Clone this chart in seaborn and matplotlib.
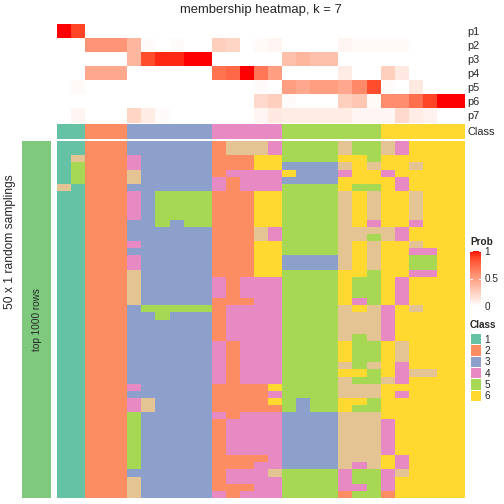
import numpy as np
import pandas as pd
import matplotlib
matplotlib.use("Agg")
import matplotlib.pyplot as plt
from matplotlib.colors import ListedColormap
import seaborn as sns

# ---------------- data ----------------
title = "membership heatmap, k = 7"
row_title = "50 x 1 random samplings"
slice_title = "top 1000 rows"
prob_rows = ["p1", "p2", "p3", "p4", "p5", "p6", "p7"]

p1 = [1.00, 0.88, 0, 0, 0, 0, 0, 0, 0, 0, 0, 0, 0, 0, 0, 0, 0, 0, 0, 0, 0, 0, 0, 0, 0, 0, 0, 0, 0]
p2 = [0, 0, 0.55, 0.55, 0.55, 0.38, 0.02, 0, 0.02, 0, 0, 0.25, 0.22, 0, 0.03, 0.05,
      0, 0, 0, 0, 0.05, 0.03, 0.03, 0.03, 0.03, 0, 0, 0, 0]
p3 = [0, 0, 0, 0, 0, 0.38, 0.85, 0.95, 0.95, 1.00, 1.00, 0, 0, 0, 0, 0,
      0.33, 0.38, 0.33, 0.33, 0, 0, 0, 0, 0, 0, 0, 0, 0]
p4 = [0, 0, 0.45, 0.45, 0.45, 0, 0, 0, 0, 0, 0, 0.70, 0.75, 1.00, 0.68, 0.50,
      0, 0, 0, 0, 0.10, 0, 0, 0.25, 0.12, 0, 0, 0, 0]
p5 = [0, 0.03, 0, 0, 0, 0, 0, 0, 0, 0, 0, 0, 0, 0, 0.02, 0,
      0.50, 0.45, 0.50, 0.50, 0.45, 0.60, 0.85, 0.02, 0, 0.12, 0, 0, 0]
p6 = [0, 0, 0, 0, 0, 0, 0, 0, 0, 0, 0, 0, 0, 0, 0.20, 0.25,
      0.02, 0, 0, 0, 0.25, 0.30, 0.03, 0.58, 0.58, 0.72, 0.88, 1.00, 1.00]
p7 = [0, 0.05, 0, 0, 0, 0.22, 0.10, 0.02, 0, 0, 0, 0, 0, 0, 0.05, 0.12,
      0.10, 0.10, 0.10, 0.10, 0.10, 0.05, 0.05, 0.05, 0.20, 0.10, 0.07, 0, 0]

column_class = [1, 1, 2, 2, 2, 3, 3, 3, 3, 3, 3, 4, 4, 4, 4, 4,
                5, 5, 5, 5, 5, 5, 5, 6, 6, 6, 6, 6, 6]

# class of every column in each of the 50 random samplings (7 = unassigned colour)
sampling_classes = [
    "11222333333277745555755746666",
    "11222333333277745555755746666",
    "17222433333222665555665666666",
    "15222433333222663333767667666",
    "15222733333244446333466466666",
    "15222733333424443333666646666",
    "71222333333424445555655646666",
    "11222435555222665555767667666",
    "11222435555222665555767667666",
    "11222435555222665555767667666",
    "11222435555222665555767667666",
    "11222335355222665555764664666",
    "11222333333222745555777746666",
    "11222333333222745555775746666",
    "11222433333222665555767667666",
    "11222333333222665555767664466",
    "11222433333222663333767665566",
    "11222433333222663333767665566",
    "11222733333222665555665664466",
    "11222733333424445555655646666",
    "11222733333424445555655646666",
    "11222733333424445555655646666",
    "11222733333222445555645646666",
    "11222355555244445555767467666",
    "11222335333244445555777466666",
    "11222333333244445555777466666",
    "11222333333244445555777466666",
    "11222333333244445555757466666",
    "11222333333424445555655676666",
    "11222333333424445555655676666",
    "11222333333424445555655676666",
    "11222333333424445555757646666",
    "11222333333424445555665647766",
    "11222333333424445555755746666",
    "11222433333222265555777666666",
    "11222333333222245555777646666",
    "11222473333222265355665666666",
    "11222473333222225355655666666",
    "11222533333424443333777666666",
    "11222533333244443333777466666",
    "11222533333244443333777466666",
    "11222533333244443333777466666",
    "11222533333244443333777466666",
    "11222533333244443333777466666",
    "11222533333222243333777646666",
    "11222533333222443333747646666",
    "11222333333244475555455476666",
    "11222733333244445555455466666",
    "11222733333222445555445466666",
    "11222733333424445555255266666",
]

legend_classes = ["1", "2", "3", "4", "5", "6"]
prob_ticks = [0, 0.5, 1]

class_colors = ["#66C2A5", "#FC8D62", "#8DA0CB", "#E78AC3", "#A6D854", "#FFD92F", "#E5C494"]
slice_color = "#7FC97F"

# ---------------- colour map white -> red (LAB interpolation) ----------------
def _srgb_to_lab(rgb):
    rgb = np.asarray(rgb, float)
    lin = np.where(rgb <= 0.04045, rgb / 12.92, ((rgb + 0.055) / 1.055) ** 2.4)
    M = np.array([[0.4124, 0.3576, 0.1805], [0.2126, 0.7152, 0.0722], [0.0193, 0.1192, 0.9505]])
    xyz = M @ lin / np.array([0.95047, 1.0, 1.08883])
    f = np.where(xyz > 0.008856, np.cbrt(xyz), 7.787 * xyz + 16 / 116)
    return np.array([116 * f[1] - 16, 500 * (f[0] - f[1]), 200 * (f[1] - f[2])])

def _lab_to_srgb(lab):
    L, a, b = lab
    fy = (L + 16) / 116
    fx = fy + a / 500
    fz = fy - b / 200
    f = np.array([fx, fy, fz])
    xyz = np.where(f ** 3 > 0.008856, f ** 3, (f - 16 / 116) / 7.787) * np.array([0.95047, 1.0, 1.08883])
    Minv = np.array([[3.2406, -1.5372, -0.4986], [-0.9689, 1.8758, 0.0415], [0.0557, -0.2040, 1.0570]])
    lin = np.clip(Minv @ xyz, 0, 1)
    return np.clip(np.where(lin <= 0.0031308, 12.92 * lin, 1.055 * lin ** (1 / 2.4) - 0.055), 0, 1)

lab_w = _srgb_to_lab([1, 1, 1])
lab_r = _srgb_to_lab([1, 0, 0])
prob_cmap = ListedColormap([_lab_to_srgb(lab_w + (lab_r - lab_w) * t) for t in np.linspace(0, 1, 256)])
class_cmap = ListedColormap(class_colors)

# ---------------- figure ----------------
sns.set_theme(style="white")
plt.rcParams['font.family'] = ['Liberation Sans', 'DejaVu Sans']

W = H = 504.0
fig = plt.figure(figsize=(7, 7), dpi=72)
fig.patch.set_facecolor("white")

def add_ax(x0, y0, x1, y1):
    return fig.add_axes([x0 / W, 1 - y1 / H, (x1 - x0) / W, (y1 - y0) / H])

membership = pd.DataFrame([p1, p2, p3, p4, p5, p6, p7], index=prob_rows)
main = np.array([[int(ch) for ch in row] for row in sampling_classes])

ax_m = add_ax(57, 23.5, 465, 122.5)
cax = add_ax(470, 251, 481.3, 306)
sns.heatmap(membership, cmap=prob_cmap, vmin=0, vmax=1, ax=ax_m, cbar_ax=cax,
            xticklabels=False, yticklabels=prob_rows)
ax_m.yaxis.tick_right()
ax_m.tick_params(axis="y", length=0, pad=2, labelsize=11, labelrotation=0)

cb = ax_m.collections[0].colorbar
cb.outline.set_visible(False)
cb.set_ticks(prob_ticks)
cb.set_ticklabels(["0", "0.5", "1"])
cax.tick_params(length=0, labelsize=10, pad=3)
for v in [0.5, 1.0]:
    cax.axhline(v, xmin=0, xmax=0.2, color="white", lw=1)
    cax.axhline(v, xmin=0.8, xmax=1, color="white", lw=1)
fig.text(470 / W, 1 - 242 / H, "Prob", fontsize=10, fontweight="bold", ha="left", va="center")

ax_c = add_ax(57, 124, 465, 138.5)
sns.heatmap(pd.DataFrame([column_class], index=["Class"]), cmap=class_cmap, vmin=0.5, vmax=7.5,
            cbar=False, ax=ax_c, xticklabels=False, yticklabels=["Class"])
ax_c.yaxis.tick_right()
ax_c.tick_params(axis="y", length=0, pad=2, labelsize=11, labelrotation=0)

ax_main = add_ax(57, 141, 465, 498)
sns.heatmap(main, cmap=class_cmap, vmin=0.5, vmax=7.5, cbar=False, ax=ax_main,
            xticklabels=False, yticklabels=False)

ax_left = add_ax(22, 141, 51, 498)
sns.heatmap(np.ones((len(sampling_classes), 1)), cmap=ListedColormap([slice_color]), cbar=False,
            ax=ax_left, xticklabels=False, yticklabels=False)
ax_left.text(0.5, 0.5, slice_title, transform=ax_left.transAxes, rotation=90,
             ha="center", va="center", fontsize=10)

fig.text(10 / W, 1 - 242 / H, row_title, rotation=90, ha="center", va="center", fontsize=12)
fig.text(261 / W, 1 - 10 / H, title, ha="center", va="center", fontsize=13)

ax_cl = add_ax(470, 333, 481.3, 401)
sns.heatmap(pd.DataFrame({"c": np.arange(1, 7)}), cmap=ListedColormap(class_colors[:6]),
            vmin=0.5, vmax=6.5, cbar=False, linewidths=0.6, linecolor="white",
            ax=ax_cl, xticklabels=False, yticklabels=legend_classes)
ax_cl.yaxis.tick_right()
ax_cl.tick_params(axis="y", length=0, pad=3, labelsize=10, labelrotation=0)
fig.text(470 / W, 1 - 325 / H, "Class", fontsize=10, fontweight="bold", ha="left", va="center")

fig.savefig("out.png", dpi=72, facecolor="white")
